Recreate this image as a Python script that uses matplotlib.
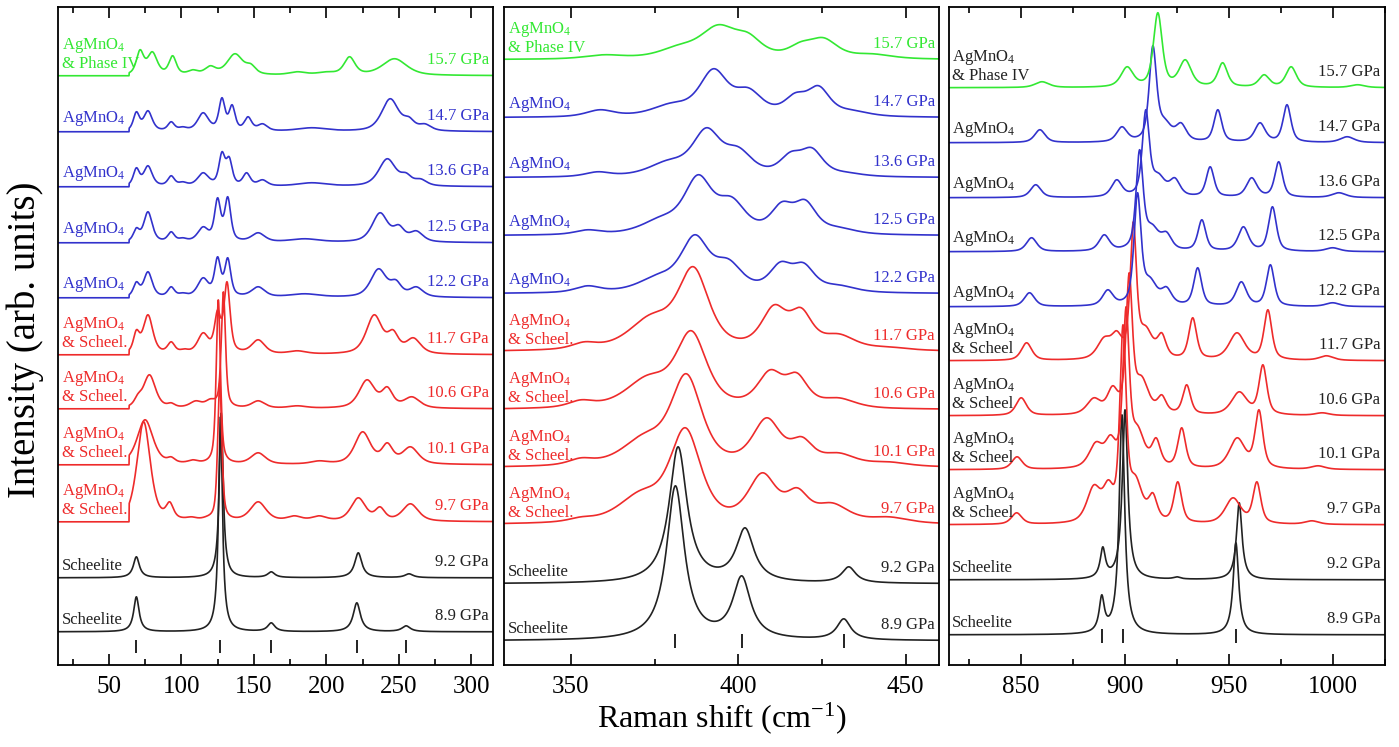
import numpy as np
import matplotlib
matplotlib.use('Agg')
from matplotlib import pyplot as plt
from matplotlib.transforms import blended_transform_factory
from matplotlib.ticker import MultipleLocator

plt.rcParams['font.family'] = 'Liberation Serif'
plt.rcParams['mathtext.fontset'] = 'custom'
plt.rcParams['mathtext.rm'] = 'Liberation Serif'
plt.rcParams['mathtext.it'] = 'Liberation Serif:italic'

# spectra from bottom to top
pressures = ['8.9', '9.2', '9.7', '10.1', '10.6', '11.7', '12.2', '12.5', '13.6', '14.7', '15.7']
phases = ['sch', 'sch', 'mix', 'mix', 'mix', 'mix', 'ag', 'ag', 'ag', 'ag', 'iv']

# vertical offsets of each trace (arb. units)
low_offsets = [33, 87, 143, 200, 256, 310, 367, 422, 478, 533, 589]
mid_offsets = [24, 81, 140, 197, 255, 313, 371, 429, 487, 547, 605]
high_offsets = [30, 85, 140, 195, 249, 304, 358, 413, 467, 522, 577]

# peaks: (Raman shift, height, fwhm)
low_peaks = [
    [(69, 35, 4.5), (127, 215, 3.2), (162, 9, 6), (221, 29, 6), (255, 6, 7)],
    [(69, 21, 5), (127.5, 165, 3.2), (162, 6, 6), (222, 25, 6), (257, 4, 7)],
    [(74, 100, 11), (92, 20, 6), (107, 5, 8), (118, 6, 8), (126.5, 139, 3.4), (153, 20, 13),
     (178, 6, 12), (195, 6, 12), (222, 24, 12), (237, 15, 8), (258, 18, 13)],
    [(75, 45, 13), (93, 8, 6), (108, 5, 8), (118, 6, 8), (125.5, 165, 3.4), (153, 12, 12),
     (195, 4, 14), (225, 33, 13), (242, 22, 9), (258, 18, 13)],
    [(70, 15, 6), (78, 34, 10), (93, 6, 6), (110, 8, 10), (120, 10, 8), (129, 117, 3.4),
     (153, 8, 11), (180, 3, 15), (228, 29, 13), (242, 22, 9), (259, 12, 13)],
    [(69, 25, 5), (77, 40, 8), (93, 13, 6), (102, 6, 7), (115, 22, 9), (125, 45, 5),
     (131.5, 73, 5), (153, 15, 11), (180, 4, 15), (233, 40, 13), (246, 25, 9), (260, 17, 12)],
    [(69, 16, 5), (77, 26, 7), (93, 11, 5.5), (101, 5, 7), (115, 20, 9), (125, 41, 5),
     (132, 40, 5), (153, 11, 11), (185, 4, 25), (236, 29, 13), (248, 18, 9), (262, 11, 11)],
    [(69, 15, 5), (77, 31, 7), (93, 11, 5.5), (101, 5, 7), (115, 16, 9), (125, 45, 5),
     (132, 46, 5), (153, 10, 11), (185, 4, 25), (237, 30, 13), (250, 18, 9), (262, 12, 11)],
    [(69, 19, 5), (77, 21, 7), (93, 11, 5.5), (101, 5, 7), (115, 14, 9), (128, 35, 5),
     (133, 30, 5), (145, 14, 6), (156, 7, 8), (190, 4, 25), (242, 28, 14), (255, 14, 9), (265, 8, 10)],
    [(69, 20, 5), (77, 21, 7), (93, 10, 5.5), (101, 5, 7), (115, 19, 9), (128, 34, 5),
     (135, 27, 5), (146, 15, 6), (156, 8, 8), (190, 4, 25), (244, 33, 14), (257, 15, 9), (268, 8, 10)],
    [(71.5, 26, 6), (80, 24, 8), (94, 20, 6), (108, 6, 8), (120, 10, 9), (137, 22, 13),
     (148, 12, 8), (180, 4, 14), (200, 4, 16), (216, 19, 9), (247, 17, 20)],
]

mid_peaks = [
    [(381.2, 155, 6.5), (401, 65, 6.5), (431.5, 22, 5)],
    [(382, 137, 6.5), (402, 56, 6.5), (433, 17, 5)],
    [(353, 8, 9), (371, 35, 16), (384.2, 97, 11), (407.2, 52, 10), (417.6, 37, 8), (428, 22, 12), (445, 8, 14)],
    [(353, 10, 9), (372, 35, 16), (384.5, 94, 11), (408.5, 50, 10), (419, 31, 8), (430, 15, 12), (445, 6, 14)],
    [(353, 10, 9), (373, 35, 16), (386, 79, 11), (409.5, 40, 9), (417.5, 37, 8), (430, 12, 12)],
    [(354, 10, 9), (374, 38, 16), (386.6, 85, 11), (410.7, 47, 9), (418.8, 44, 8), (430, 18, 12), (445, 5, 14)],
    [(355, 8, 9), (376, 20, 14), (387, 59, 10), (397, 35, 10), (412.6, 32, 8), (419.5, 31, 8), (430, 9, 12)],
    [(355, 6, 9), (377, 20, 14), (388, 61, 10), (398, 39, 10), (413, 34, 8), (420, 36, 8), (430, 9, 12)],
    [(358, 6, 9), (379, 18, 14), (390.5, 50, 10), (400, 31, 10), (415.6, 26, 8), (422, 30, 8), (432, 6, 12)],
    [(358.7, 8, 10), (380, 15, 14), (392.6, 49, 10), (403, 30, 10), (417, 25, 8), (424, 32, 8), (434, 8, 12)],
    [(360, 5, 14), (382, 15, 14), (394, 35, 13), (403, 27, 10), (418.6, 18, 9), (425.5, 22, 10), (440, 6, 14)],
]

high_peaks = [
    [(888.8, 40, 3), (898.5, 220, 3.2), (953.4, 92, 3.2)],
    [(889.3, 33, 3), (900, 170, 3.2), (925, 3, 4), (955, 77, 3.2)],
    [(847.8, 12, 6), (885, 40, 8), (892, 45, 6), (899, 200, 3.6), (905, 50, 8), (913.4, 32, 5),
     (925.4, 43, 4.5), (952, 27, 9), (963.5, 43, 4.5), (990, 4, 8)],
    [(848, 13, 6), (886, 28, 8), (893, 35, 6), (900.5, 163, 3.6), (906, 45, 8), (915, 32, 5),
     (927.3, 42, 4.5), (954, 32, 9), (964.5, 60, 4.5), (993, 4, 8)],
    [(850, 18, 6), (885, 18, 8), (894, 30, 6), (902, 143, 3.6), (908, 40, 8), (917.7, 21, 5),
     (929.7, 31, 4.5), (955, 24, 9), (966.4, 51, 4.5), (995, 3, 8)],
    [(852.6, 18, 6), (890, 24, 8), (896, 30, 6), (904, 139, 3.6), (910, 35, 8), (917.7, 28, 5),
     (932.6, 43, 4.5), (953.9, 28, 9), (968.8, 51, 4.5), (997, 5, 8)],
    [(854, 14, 6), (891.7, 17, 6), (906, 114, 4), (912, 30, 8), (920, 20, 6), (935, 39, 4.5),
     (956, 25, 6), (970, 42, 4.5), (1000, 4, 8)],
    [(855, 14, 6), (890, 17, 6), (907, 102, 4), (913, 28, 8), (920, 20, 6), (937, 32, 4.5),
     (957, 25, 6), (971, 45, 4.5), (1000, 4, 8)],
    [(857, 13, 6), (896, 18, 6), (910, 88, 4), (916, 25, 8), (924, 20, 6), (941, 31, 4.5),
     (961, 20, 6), (974, 36, 4.5), (1003, 5, 8)],
    [(859, 13, 6), (898.5, 16, 6), (913.4, 97, 4.2), (919, 25, 8), (927, 20, 6), (944.7, 33, 4.5),
     (965, 20, 6), (978, 38, 4.5), (1007, 6, 8)],
    [(860, 6, 8), (901, 21, 7), (915.8, 75, 5), (929, 28, 7), (947, 25, 5.5), (967, 13, 6),
     (980, 21, 6), (1012, 3, 8)],
]

# marks under the lowest trace
low_marks = [69, 127, 162, 221, 255]
mid_marks = [381.2, 401, 431.5]
high_marks = [888.8, 898.9, 953.4]

colors = {'sch': '#222222', 'mix': '#ee2b2b', 'ag': '#3232cc', 'iv': '#33e833'}
names = {'sch': 'Scheelite', 'mix': 'AgMnO$_4$\n& Scheel.', 'ag': 'AgMnO$_4$',
         'iv': 'AgMnO$_4$\n& Phase IV'}


def shape(x, c, w, eta):
    u = (x - c) / w
    return eta / (1 + 4 * u ** 2) + (1 - eta) * np.exp(-4 * np.log(2) * u ** 2)


def spectrum(x, peaks, eta):
    c = np.array([p[0] for p in peaks], float)
    h = np.array([p[1] for p in peaks], float)
    w = np.array([p[2] for p in peaks], float)
    m = shape(c[:, None], c[None, :], w[None, :], eta)
    a = h.copy()
    for _ in range(200):
        for i in range(len(a)):
            a[i] = max(0.0, h[i] - (m[i] @ a - m[i, i] * a[i]))
    y = np.zeros_like(x)
    for j in range(len(a)):
        y += a[j] * shape(x, c[j], w[j], eta)
    return y


fig = plt.figure(figsize=(13.99, 7.47), dpi=100)
panels = [
    ([0.0415, 0.11, 0.311, 0.881], (15, 315), low_offsets, low_peaks, low_marks, (12, 25), 64, True),
    ([0.3603, 0.11, 0.311, 0.881], (330, 460), mid_offsets, mid_peaks, mid_marks, (17, 31), None, True),
    ([0.678, 0.11, 0.3117, 0.881], (815, 1025), high_offsets, high_peaks, high_marks, (22, 36), None, False),
]

for rect, xlim, offsets, peaks, marks, mark_y, cut, colored_text in panels:
    ax = fig.add_axes(rect)
    x = np.linspace(xlim[0], xlim[1], 2000)
    tr = blended_transform_factory(ax.transAxes, ax.transData)
    for i, p in enumerate(pressures):
        ph = phases[i]
        eta = 1.0 if ph == 'sch' else 0.6
        y = spectrum(x, peaks[i], eta)
        if cut is not None and ph != 'sch':
            y = np.where(x < cut, 0.0, y)
        ax.plot(x, y + offsets[i], color=colors[ph], lw=1.2)
        tc = colors[ph] if colored_text else '#222222'
        label = names[ph]
        if not colored_text:
            label = label.replace('Scheel.', 'Scheel')
        ax.text(0.008, offsets[i] + 4, label, transform=tr, ha='left', va='bottom',
                fontsize=12, color=tc, linespacing=1.05)
        ax.text(0.99, offsets[i] + 8, p + ' GPa', transform=tr, ha='right', va='bottom',
                fontsize=12, color=tc)
    ax.vlines(marks, mark_y[0], mark_y[1], color='#222222', lw=1.4)
    ax.set_xlim(*xlim)
    ax.set_ylim(0, 658)
    ax.xaxis.set_major_locator(MultipleLocator(50))
    ax.xaxis.set_minor_locator(MultipleLocator(25))
    ax.tick_params(which='both', direction='in', top=True, bottom=True, left=False,
                   right=False, labelleft=False, width=1.2)
    ax.tick_params(which='major', length=8, labelsize=18, pad=8)
    ax.tick_params(which='minor', length=4)
    for s in ax.spines.values():
        s.set_linewidth(1.3)

fig.text(0.516, 0.039, 'Raman shift (cm$^{-1}$)', ha='center', va='center', fontsize=23)
fig.text(0.018, 0.545, 'Intensity (arb. units)', ha='center', va='center', rotation=90, fontsize=28)

fig.savefig('out.png', dpi=100, facecolor='white')
